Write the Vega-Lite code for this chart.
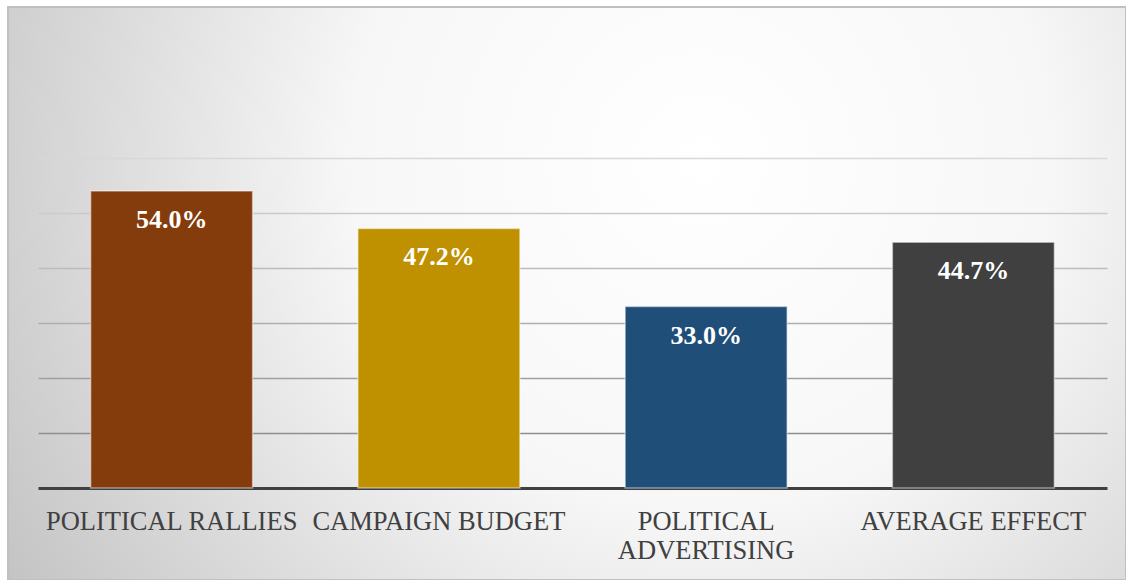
{
  "$schema": "https://vega.github.io/schema/vega-lite/v6.json",
  "width": 1118,
  "height": 573,
  "autosize": {"type": "none"},
  "padding": {"left": 8, "top": 7, "right": 0, "bottom": 0},
  "background": "#ffffff",
  "data": {
    "values": [
      {"category": "POLITICAL RALLIES", "value": 0.540},
      {"category": "CAMPAIGN BUDGET", "value": 0.472},
      {"category": "POLITICAL ADVERTISING", "value": 0.330},
      {"category": "AVERAGE EFFECT", "value": 0.447}
    ]
  },
  "encoding": {
    "x": {
      "field": "category",
      "type": "nominal",
      "sort": null,
      "scale": {"range": [30, 1099], "paddingInner": 0.394, "paddingOuter": 0.197},
      "axis": {
        "title": null,
        "orient": "bottom",
        "offset": -92,
        "labelAngle": 0,
        "labelFont": "Liberation Serif",
        "labelFontSize": 26.5,
        "labelColor": "#404040",
        "labelPadding": 20,
        "labelLineHeight": 29.5,
        "labelLimit": 400,
        "labelExpr": "length(datum.label) > 18 ? split(datum.label, ' ') : datum.label",
        "ticks": false,
        "domain": true,
        "domainColor": "#404040",
        "domainWidth": 3,
        "grid": false
      }
    },
    "y": {
      "field": "value",
      "type": "quantitative",
      "scale": {"domain": [0, 0.6], "range": [481, 151], "nice": false, "zero": true},
      "axis": {
        "title": null,
        "labels": false,
        "ticks": false,
        "domain": false,
        "grid": true,
        "values": [0.1, 0.2, 0.3, 0.4, 0.5, 0.6],
        "gridWidth": 1.5,
        "gridOpacity": 1,
        "gridColor": {
          "condition": [
            {"test": "datum.value >= 0.55", "value": "#d8d8d8"},
            {"test": "datum.value >= 0.45", "value": "#cacaca"},
            {"test": "datum.value >= 0.35", "value": "#bcbcbc"},
            {"test": "datum.value >= 0.25", "value": "#aeaeae"},
            {"test": "datum.value >= 0.15", "value": "#a0a0a0"}
          ],
          "value": "#8e8e8e"
        }
      }
    }
  },
  "layer": [
    {
      "mark": {"type": "bar", "stroke": "#ffffff", "strokeOpacity": 0.45, "strokeWidth": 1.5},
      "encoding": {
        "color": {
          "field": "category",
          "type": "nominal",
          "sort": null,
          "scale": {
            "domain": ["POLITICAL RALLIES", "CAMPAIGN BUDGET", "POLITICAL ADVERTISING", "AVERAGE EFFECT"],
            "range": ["#843c0c", "#bf9000", "#1f4e79", "#404040"]
          },
          "legend": null
        }
      }
    },
    {
      "mark": {
        "type": "text",
        "baseline": "alphabetic",
        "align": "center",
        "dy": 37,
        "font": "Liberation Serif",
        "fontSize": 26,
        "fontWeight": "bold",
        "color": "#ffffff"
      },
      "encoding": {
        "text": {"field": "value", "type": "quantitative", "format": ".1%"}
      }
    }
  ],
  "config": {
    "font": "Liberation Serif",
    "view": {
      "fill": {
        "gradient": "radial",
        "x1": 0.62, "y1": 0.38, "r1": 0,
        "x2": 0.62, "y2": 0.38, "r2": 0.78,
        "stops": [
          {"offset": 0, "color": "#ffffff"},
          {"offset": 0.4, "color": "#f7f7f7"},
          {"offset": 1, "color": "#bdbdbd"}
        ]
      },
      "stroke": "#c0c0c0",
      "strokeWidth": 2
    }
  }
}
